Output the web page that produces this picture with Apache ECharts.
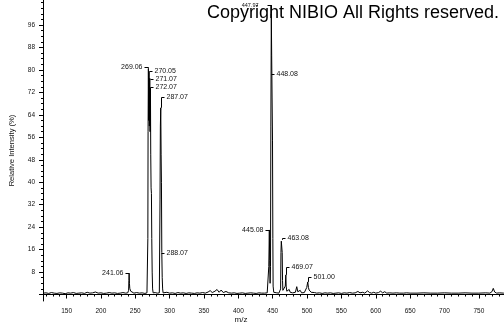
<!DOCTYPE html>
<html><head><meta charset="utf-8">
<script src="https://cdn.jsdelivr.net/npm/echarts@6/dist/echarts.min.js"></script>
<style>html,body{margin:0;padding:0;background:#fff}#c{width:504px;height:325px}</style>
</head><body><div id="c"></div>
<script>
// ---- spectrum (profile) data: m/z and relative intensity (%) ----
const mzValues = [
116,120,124,128,132,136,140,144,148,152,156,160,164,168,172,176,180,184,188,192,196,200,204,208,212,216,220,224,228,232,236,239,
240.3,240.7,241.06,241.5,242.0,242.6,243.3,244.5,248,252,256,260,264,267,
268.0,268.3,268.6,269.06,269.5,270.05,270.5,271.07,271.5,272.07,272.5,273.0,273.5,274.0,274.6,275.2,276,279,282,285.0,
285.5,286.0,286.5,287.07,287.6,288.07,288.6,289.2,289.8,290.5,293,296,300,304,308,312,316,320,324,328,332,336,340,344,348,352,356,359,362,366,369,372,375,378,382,386,390,394,398,402,406,410,414,418,422,426,430,434,438,442,443.5,
444.3,445.08,445.6,446.2,446.8,447.3,447.97,448.5,449.1,449.7,450.2,450.6,451.5,453,456,459,461.0,461.5,462.0,462.5,463.08,463.8,464.3,464.8,466,467,468.3,469.07,469.6,470.5,472,474,475.5,477,479,481,483,485,486.5,488,490,492,494,496,498,499.5,501.0,502,503,504.5,506,508,511,514,518,522,526,530,534,538,542,546,550,554,558,562,566,570,574,577,581,584,588,591,594,597,600,604,607,610,613,616,620,625,630,635,640,645,650,660,670,680,690,700,710,720,730,740,750,760,766,769,771,773,776,780,786,790
];
const intensityValues = [
0.5,0.6,0.4,0.7,0.5,0.4,0.6,0.5,0.3,0.6,0.5,0.7,0.4,0.5,0.6,0.4,0.8,0.5,0.6,0.9,0.5,0.6,0.4,0.5,0.7,0.5,0.6,0.4,0.5,0.7,0.5,0.6,
1.5,5,7.5,4,2.2,2.5,1.2,0.6,0.5,0.7,0.5,0.6,0.4,0.6,
1,20,58,80.5,62,79,60,77,58,73.5,50,38,36,20,8,2,0.6,0.7,0.5,0.6,
1,34,60,66.5,50,40,15,6,2,0.6,0.6,0.8,0.5,0.6,0.4,0.7,0.5,0.6,0.4,0.6,0.5,0.4,0.6,0.5,0.7,0.5,0.9,1.4,0.7,1.2,1.8,0.8,1.6,0.7,1.1,0.6,0.5,0.6,0.4,0.5,0.6,0.4,0.5,0.6,0.5,0.4,0.6,0.5,0.5,0.6,0.8,
10,23,12,4,10,60,100,85,70,55,20,3,0.8,0.5,0.6,0.5,0.8,2,15,19,19.5,15,5,1.5,2,1.2,3,7,3,1.2,0.8,1.8,0.8,1.0,0.6,1.3,0.8,2.8,1.0,0.7,1.5,0.6,0.8,0.7,1.2,2.5,4.5,2.5,1.6,1.2,0.8,0.6,0.7,0.5,0.6,0.4,0.6,0.5,0.6,0.4,0.5,0.6,0.4,0.6,0.5,0.7,0.5,0.6,1.1,0.6,0.8,0.5,1.3,0.7,0.5,0.8,0.5,0.7,1.2,0.6,1.0,0.5,0.6,0.5,0.6,0.5,0.5,0.6,0.5,0.5,0.6,0.5,0.5,0.6,0.5,0.5,0.6,0.5,0.5,0.6,0.5,1.0,2.2,0.9,0.5,0.6,0.5,0.5
];

// ---- labelled peaks ----
const peakLabelMz    = [241.06, 269.06, 270.05, 271.07, 272.07, 287.07, 288.07, 445.08, 447.97, 448.08, 463.08, 469.07, 501.00];
const peakLabelLevel = [7.7,    81.2,   79.6,   76.8,   73.9,   70.4,   14.8,   22.9,   103.2,  78.5,   20.0,   9.9,    6.2];
const peakTopValue   = [7.5,    80.5,   79,     77,     73.5,   66.5,   14.8,   23,     100,    80,     19.5,   7,      4.5];

// ---- axis tick labels ----
const xTickLabels = [150,200,250,300,350,400,450,500,550,600,650,700,750];
const yTickLabels = [8,16,24,32,40,48,56,64,72,80,88,96];

// ---- layout / style (not data) ----
const LABEL_SIDE = ['L','L','R','R','R','R','R','L','L','R','R','R','R'];
const LABEL_LAYOUT = { '447.97': { gap: 12, size: 5.5 } };
const FONT = '"Liberation Sans", Arial, sans-serif';

const xMinor = []; for (let v = 120; v <= 780; v += 10) xMinor.push(v);
const yMinor = []; for (let v = 0; v <= 104; v += 2) yMinor.push(v);
const yMajor = [0].concat(yTickLabels);

const spectrum = mzValues.map((m, i) => [m, intensityValues[i]]);
const labelData = peakLabelMz.map((m, i) => [m, peakLabelLevel[i], peakTopValue[i]]);

const X_MIN = 115.7, X_MAX = 786.6, Y_MIN = -2.3, Y_MAX = 104.9;
const axisCommon = { type: 'value', min: X_MIN, max: X_MAX, splitLine: { show: false } };

const chart = echarts.init(document.getElementById('c'), null, { renderer: 'canvas' });
chart.setOption({
  animation: false,
  backgroundColor: '#fff',
  grid: { left: 35, right: 0, top: 0, bottom: 24, containLabel: false },
  xAxis: [
    Object.assign({}, axisCommon, {
      position: 'bottom',
      axisLine: { show: true, lineStyle: { color: '#000', width: 1 } },
      axisTick: { show: true, customValues: xTickLabels, length: 4, lineStyle: { color: '#000' } },
      axisLabel: { show: true, customValues: xTickLabels, margin: 7, fontSize: 6.5, fontFamily: FONT, color: '#111' }
    }),
    Object.assign({}, axisCommon, {
      position: 'bottom', offset: 0,
      axisLine: { show: false },
      axisTick: { show: true, customValues: xMinor, length: 2, lineStyle: { color: '#000' } },
      axisLabel: { show: false }
    })
  ],
  yAxis: [
    {
      type: 'value', min: Y_MIN, max: Y_MAX, position: 'left',
      splitLine: { show: false },
      axisLine: { show: true, lineStyle: { color: '#000', width: 1 } },
      axisTick: { show: true, customValues: yMajor, length: 4, lineStyle: { color: '#000' } },
      axisLabel: { show: true, customValues: yTickLabels, margin: 8, fontSize: 6.5, fontFamily: FONT, color: '#111' },
      name: 'Relative Intensity (%)', nameLocation: 'middle', nameGap: 27,
      nameTextStyle: { fontSize: 7.6, fontFamily: FONT, color: '#111' }
    },
    {
      type: 'value', min: Y_MIN, max: Y_MAX, position: 'left', offset: 0,
      splitLine: { show: false },
      axisLine: { show: false },
      axisTick: { show: true, customValues: yMinor, length: 2, lineStyle: { color: '#000' } },
      axisLabel: { show: false }
    }
  ],
  series: [
    {
      type: 'line', xAxisIndex: 0, yAxisIndex: 0,
      data: spectrum, showSymbol: false, symbol: 'none',
      lineStyle: { color: '#000', width: 1 }, silent: true, z: 3
    },
    {
      type: 'custom', xAxisIndex: 0, yAxisIndex: 0, z: 4,
      data: labelData,
      encode: { x: 0, y: 1 },
      renderItem: function (params, api) {
        const i = params.dataIndex;
        const mz = api.value(0), lv = api.value(1), top = api.value(2);
        const p = api.coord([mz, lv]);
        const q = api.coord([mz, top]);
        const txt = peakLabelMz[i].toFixed(2);
        const lay = LABEL_LAYOUT[txt] || {};
        const gap = lay.gap || 5;
        const size = lay.size || 7;
        const x = Math.round(p[0]) + 0.5, y = Math.round(p[1]) + 0.5;
        const ls = { stroke: '#000', lineWidth: 1 };
        const ch = [];
        if (LABEL_SIDE[i] === 'L') {
          ch.push({ type: 'line', shape: { x1: x - 4, y1: y, x2: x, y2: y }, style: ls });
          ch.push({ type: 'text', style: { text: txt, x: x - gap - 1, y: y, align: 'right', verticalAlign: 'middle', fontSize: size, fontFamily: FONT, fill: '#111' } });
        } else {
          ch.push({ type: 'line', shape: { x1: x, y1: y, x2: x + 3, y2: y }, style: ls });
          ch.push({ type: 'text', style: { text: txt, x: x + gap, y: y, align: 'left', verticalAlign: 'middle', fontSize: size, fontFamily: FONT, fill: '#111' } });
        }
        if (q[1] > p[1] + 1) ch.push({ type: 'line', shape: { x1: x, y1: y, x2: x, y2: q[1] }, style: ls });
        return { type: 'group', children: ch };
      }
    }
  ],
  graphic: [
    { type: 'text', x: 207, y: 4, z: 10, style: { text: 'Copyright NIBIO All Rights reserved.', fontSize: 18, fontFamily: FONT, fill: '#000', verticalAlign: 'top' } },
    { type: 'text', x: 241, y: 316, z: 10, style: { text: 'm/z', fontSize: 8, fontFamily: FONT, fill: '#111', align: 'center', verticalAlign: 'top' } }
  ]
});
</script>
</body></html>
